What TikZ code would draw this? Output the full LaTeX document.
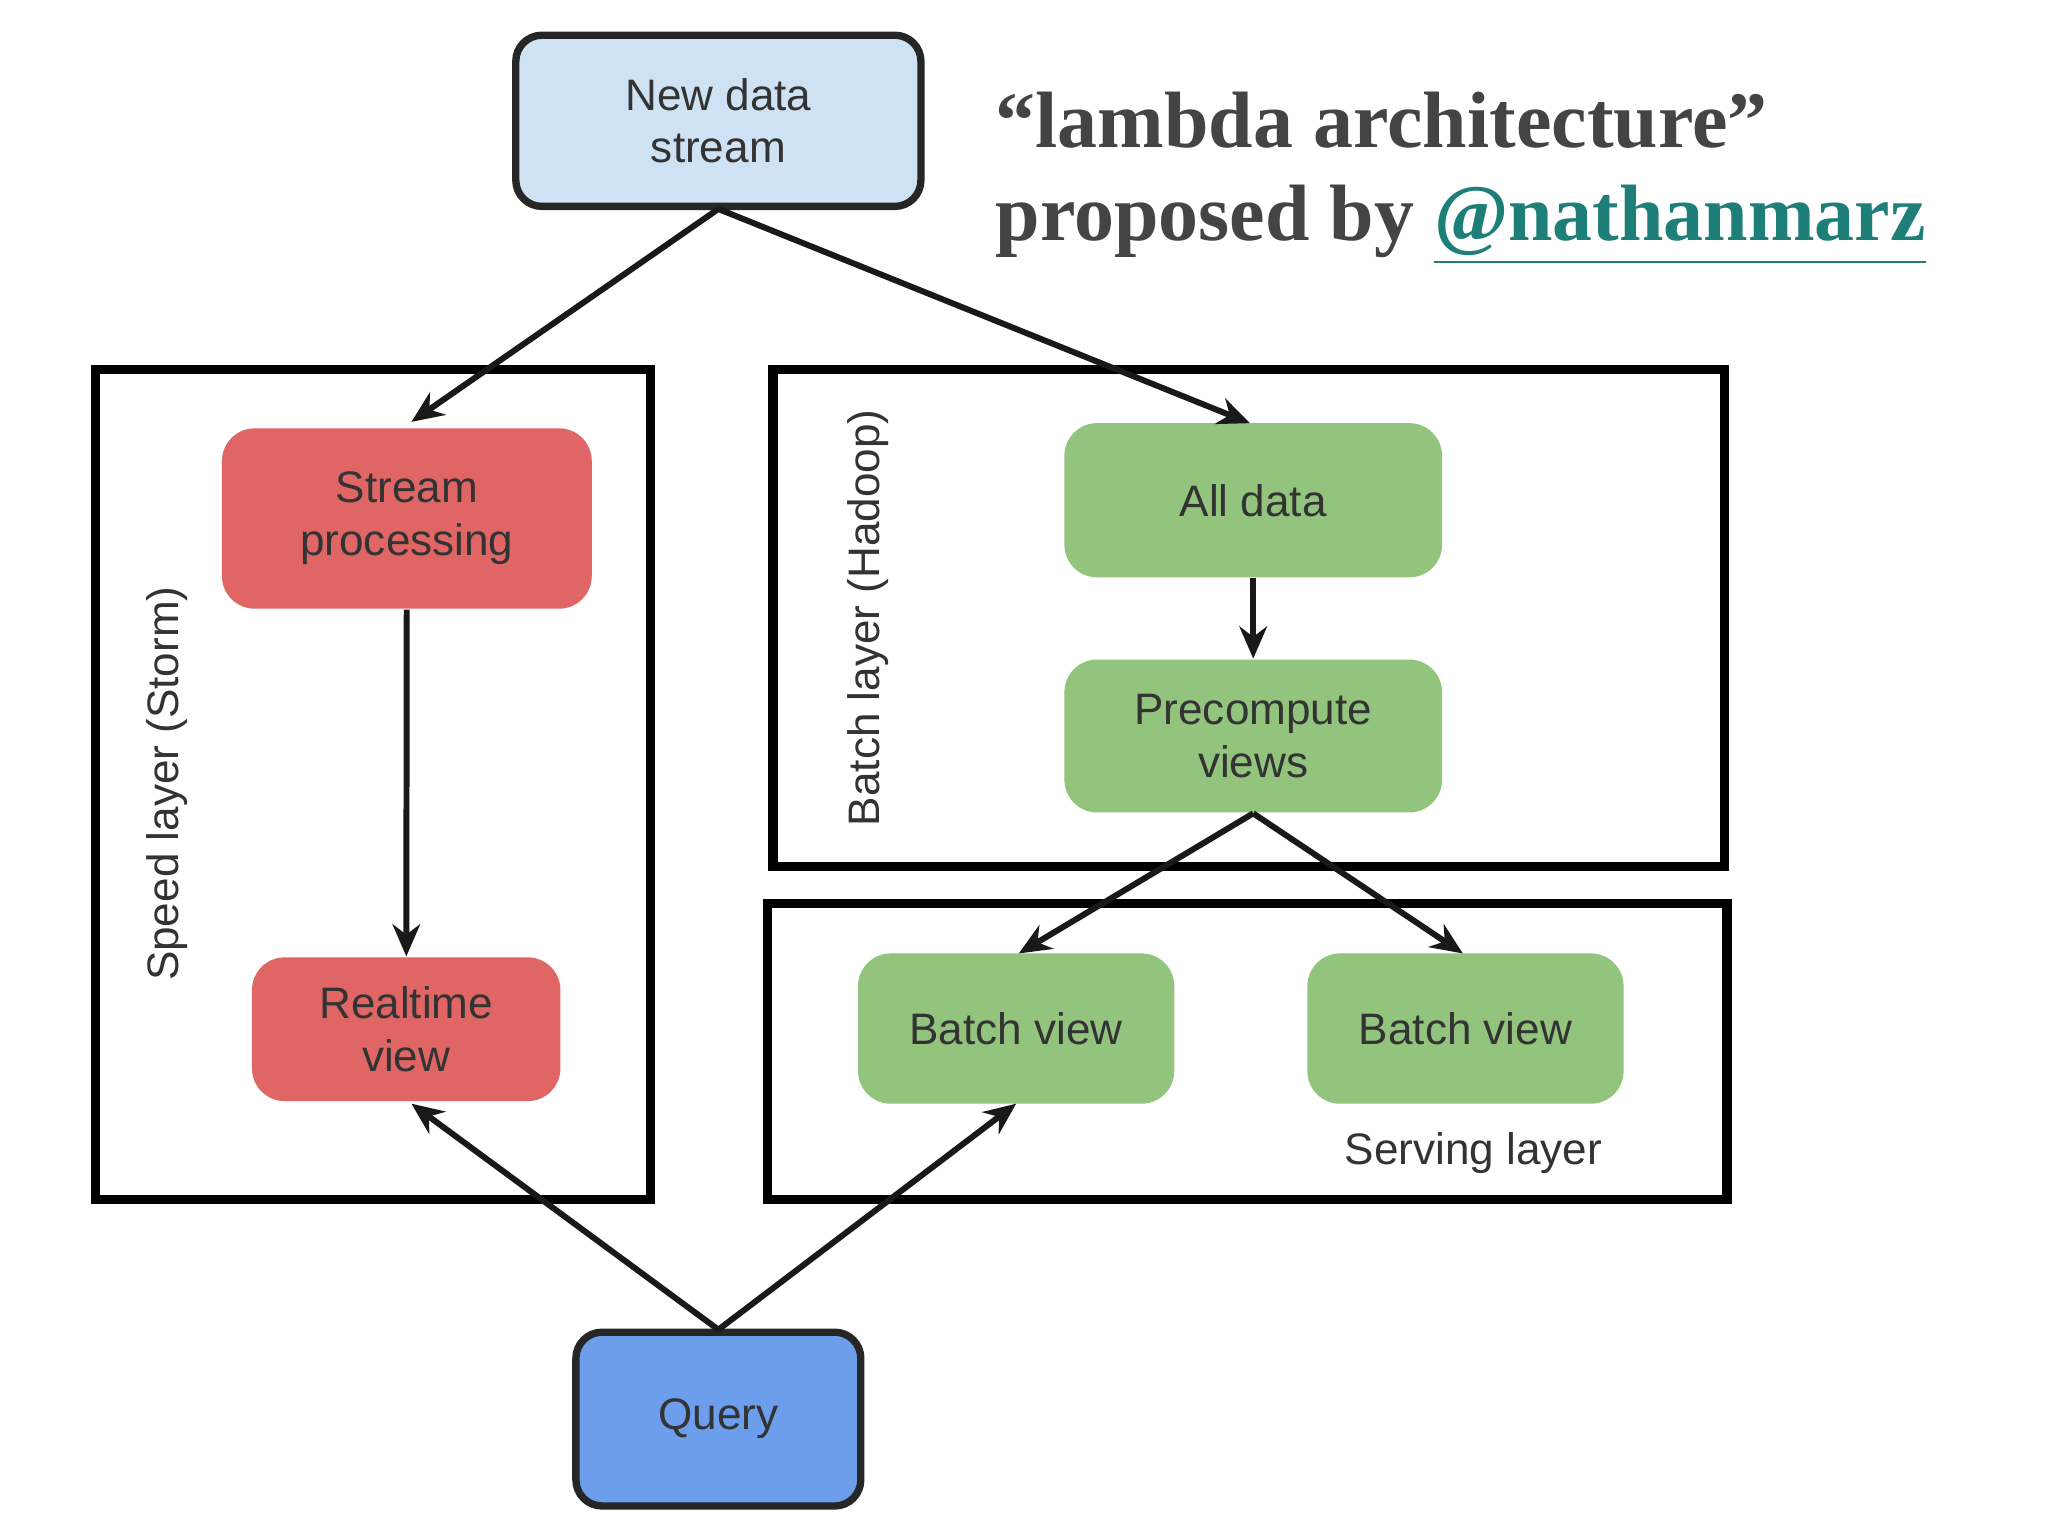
\documentclass[tikz,border=0pt]{standalone}
\usepackage{fontspec}
\setmainfont{Liberation Sans}
\newfontfamily\titlefont{Liberation Serif}
\usetikzlibrary{arrows.meta}
\definecolor{tcol}{HTML}{444444}
\definecolor{link}{HTML}{1E7F79}
\begin{document}
\begin{tikzpicture}[x=0.01cm,y=-0.01cm,
  every node/.style={font=\fontsize{9.6}{11.5}\selectfont, text=black!80, align=center},
  box/.style={draw=black!85, line width=1.6pt, rounded corners=0.2cm, inner sep=0},
  red/.style={draw=none, rounded corners=0.25cm, inner sep=0, fill={rgb,255:red,224;green,102;blue,102}},
  grn/.style={draw=none, rounded corners=0.25cm, inner sep=0, fill={rgb,255:red,147;green,196;blue,125}},
  layer/.style={draw=black, line width=2pt},
  ttl/.style={anchor=west, font=\titlefont\bfseries\fontsize{17.4}{21}\selectfont, text=tcol, align=left},
  arr/.style={-{Stealth[length=7pt,width=6pt]}, line width=1.3pt, black!90}]
\useasboundingbox (0,0) rectangle (1568,1176);
\fill[white] (0,0) rectangle (1568,1176);
\node[layer, minimum width=4.25cm, minimum height=6.35cm] (speed) at (285.5,600.5) {};
\node[layer, minimum width=7.28cm, minimum height=3.80cm] (batch) at (956,473) {};
\node[layer, minimum width=7.34cm, minimum height=2.26cm] (serving) at (955,805) {};
\node[box, fill={rgb,255:red,207;green,226;blue,243}, minimum width=3.10cm, minimum height=1.31cm] (new) at (550,92.5) {New data\\stream};
\node[red, minimum width=2.83cm, minimum height=1.38cm] (sp) at (311.5,397) {Stream\\processing};
\node[red, minimum width=2.36cm, minimum height=1.10cm] (rt) at (311,788) {Realtime\\view};
\node[grn, minimum width=2.89cm, minimum height=1.18cm] (all) at (959.5,383) {All data};
\node[grn, minimum width=2.89cm, minimum height=1.17cm] (pre) at (959.5,563.5) {Precompute\\views};
\node[grn, minimum width=2.42cm, minimum height=1.15cm] (bv1) at (778,787.5) {Batch view};
\node[grn, minimum width=2.42cm, minimum height=1.15cm] (bv2) at (1122,787.5) {Batch view};
\node[box, fill={rgb,255:red,109;green,158;blue,235}, minimum width=2.18cm, minimum height=1.33cm] (q) at (550,1086.5) {Query};
\node[rotate=90] (sl) at (128,600) {Speed layer (Storm)};
\node[rotate=90] (bl) at (665,473) {Batch layer (Hadoop)};
\node (svl) at (1128,883) {Serving layer};
\node[ttl] (t1) at (750,92) {“lambda architecture”};
\node[ttl] (t2) at (750,172) {proposed by \textcolor{link}{\underline{@nathanmarz}}};
\coordinate (nb) at (550,160);
\coordinate (qt) at (550,1018);
\draw[arr] (nb) -- (315,323);
\draw[arr] (nb) -- (957,324);
\draw[arr] (sp) -- (rt);
\draw[arr] (all) -- (pre);
\draw[arr] (pre.south) -- (780,730);
\draw[arr] (pre.south) -- (1120,730);
\draw[arr] (qt) -- (315,845);
\draw[arr] (qt) -- (778,845);
\end{tikzpicture}
\end{document}
